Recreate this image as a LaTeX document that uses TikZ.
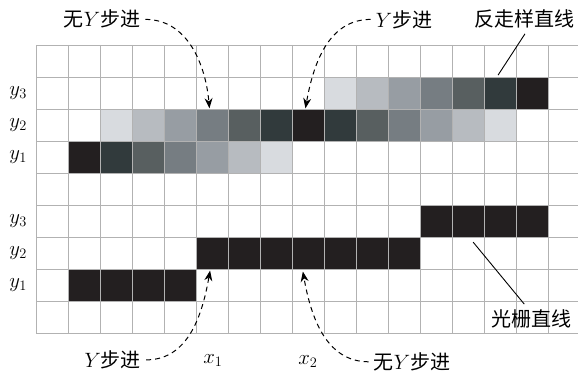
\documentclass[tikz,border=0pt]{standalone}
\usepackage{fontspec}
\newfontfamily\cjk{Noto Sans CJK SC}
\usetikzlibrary{arrows.meta}
\definecolor{s0}{HTML}{231F20}
\definecolor{s1}{HTML}{313A3C}
\definecolor{s2}{HTML}{585F60}
\definecolor{s3}{HTML}{767D82}
\definecolor{s4}{HTML}{979DA3}
\definecolor{s5}{HTML}{B7BBC0}
\definecolor{s6}{HTML}{D8DBDF}
\tikzset{gridline/.style={draw=gray!60, line width=0.9pt},
  note/.style={font=\fontsize{20}{24}\selectfont\cjk, inner sep=5pt},
  axlab/.style={font=\fontsize{20}{24}\selectfont, inner sep=1pt},
  steparr/.style={dash pattern=on 5pt off 4pt, line width=1pt, -{Stealth[length=3.6mm,width=2.8mm]}},
  leader/.style={line width=0.9pt}}

\begin{document}
\begin{tikzpicture}[x=32pt,y=-32pt]
  \useasboundingbox (-1.125,-1.40625) rectangle (16.9375,10.28125);
  % antialiased line
  \foreach \c/\k in {1/0,2/1,3/2,4/3,5/4,6/5,7/6}
    \fill[s\k] (\c,3) rectangle +(1,1);
  \foreach \c/\k in {2/6,3/5,4/4,5/3,6/2,7/1,8/0,9/1,10/2,11/3,12/4,13/5,14/6}
    \fill[s\k] (\c,2) rectangle +(1,1);
  \foreach \c/\k in {9/6,10/5,11/4,12/3,13/2,14/1,15/0}
    \fill[s\k] (\c,1) rectangle +(1,1);
  % raster line
  \fill[s0] (1,7) rectangle (5,8);
  \fill[s0] (5,6) rectangle (12,7);
  \fill[s0] (12,5) rectangle (16,6);
  % grid
  \foreach \c in {0,...,17} \draw[gridline] (\c,0) -- (\c,9);
  \foreach \r in {0,...,9} \draw[gridline] (0,\r) -- (17,\r);
  % row labels
  \foreach \r/\n in {1/3,2/2,3/1,5/3,6/2,7/1}
    \node[axlab] (y\r) at (-0.56,\r+0.5) {$y_{\n}$};
  \node[axlab] (x1) at (5.53,9.86) {$x_1$};
  \node[axlab] (x2) at (8.5,9.9) {$x_2$};
  % notes
  \node[note] (nostepA) at (2.06,-0.8) {无$Y$步进};
  \node[note] (stepA) at (11.5,-0.8) {$Y$步进};
  \node[note] (aaline) at (15.28,-0.8) {反走样直线};
  \node[note] (stepB) at (2.4,9.84) {$Y$步进};
  \node[note] (nostepB) at (11.75,9.9) {无$Y$步进};
  \node[note] (rasline) at (15.47,8.55) {光栅直线};
  \coordinate (tipA) at (5.42,1.98);
  \coordinate (tipB) at (8.42,1.98);
  \coordinate (tipC) at (5.44,7.05);
  \coordinate (tipD) at (8.34,7.08);
  \draw[steparr] (nostepA.east) to[out=0,in=95] (tipA);
  \draw[steparr] (stepA.west) to[out=180,in=80] (tipB);
  \draw[steparr] (stepB.east) to[out=0,in=260] (tipC);
  \draw[steparr] (nostepB.west) to[out=180,in=280] (tipD);
  \coordinate (aaend) at (14.44,0.94);
  \coordinate (rasend) at (13.66,6.16);
  \draw[leader] (aaline.south) -- (aaend);
  \draw[leader] (rasend) -- (rasline.115);
\end{tikzpicture}
\end{document}
